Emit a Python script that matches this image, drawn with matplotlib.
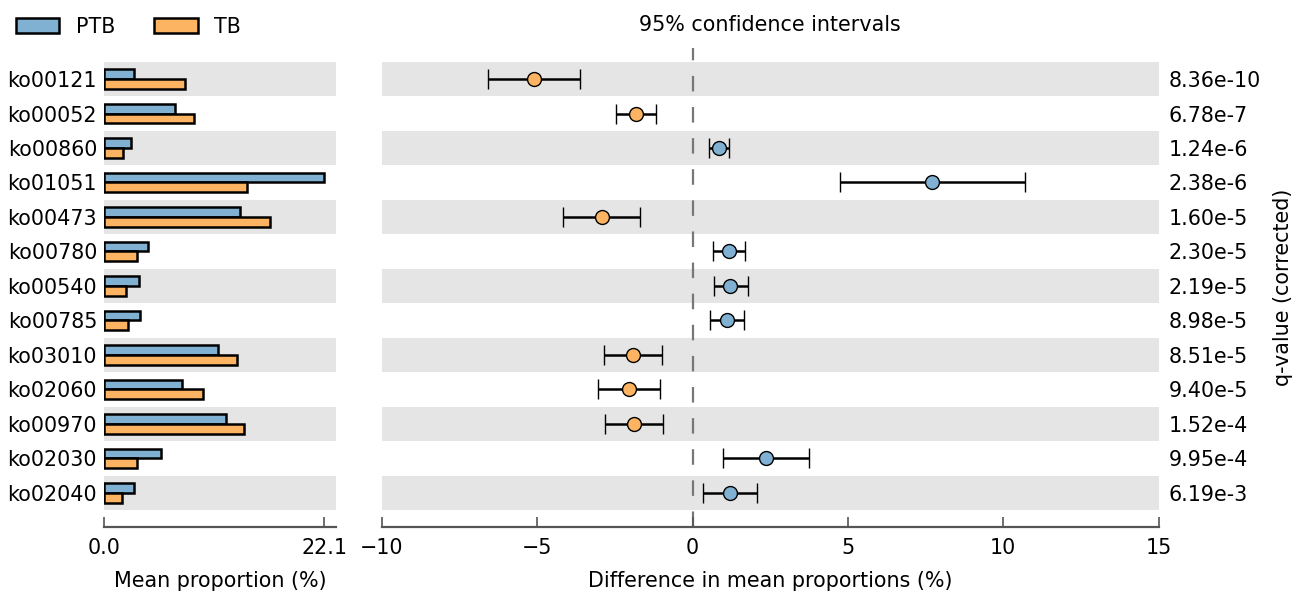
import matplotlib

matplotlib.use("Agg")
import matplotlib.patches as mpatches
import matplotlib.pyplot as plt
import numpy as np

# pathways, top to bottom
features = [
    "ko00121", "ko00052", "ko00860", "ko01051", "ko00473", "ko00780", "ko00540",
    "ko00785", "ko03010", "ko02060", "ko00970", "ko02030", "ko02040",
]
# mean proportion (%)
ptb_mean = [3.0, 7.1, 2.75, 22.1, 13.7, 4.45, 3.5, 3.6, 11.4, 7.8, 12.25, 5.7, 3.0]
tb_mean = [8.1, 9.0, 1.9, 14.4, 16.7, 3.3, 2.2, 2.4, 13.4, 9.9, 14.1, 3.3, 1.8]
# difference in mean proportions with 95% CI
diff = [-5.11, -1.83, 0.84, 7.72, -2.92, 1.17, 1.22, 1.11, -1.92, -2.05, -1.89, 2.36, 1.21]
ci_low = [-6.57, -2.47, 0.52, 4.74, -4.18, 0.65, 0.69, 0.57, -2.85, -3.05, -2.83, 0.97, 0.34]
ci_high = [-3.61, -1.17, 1.17, 10.70, -1.68, 1.70, 1.79, 1.67, -0.99, -1.05, -0.94, 3.75, 2.08]
qvals = [
    "8.36e-10", "6.78e-7", "1.24e-6", "2.38e-6", "1.60e-5", "2.30e-5", "2.19e-5",
    "8.98e-5", "8.51e-5", "9.40e-5", "1.52e-4", "9.95e-4", "6.19e-3",
]

C_PTB = "#80b1d3"
C_TB = "#fdb462"
C_BAND = "#e5e5e5"
C_AXIS = "#555555"
FS = 14.9

y = np.arange(len(features))
ylim = (12.99, -0.9)

fig = plt.figure(figsize=(13.03, 5.92), dpi=100)
fig.patch.set_facecolor("white")

ax_l = fig.add_axes([104 / 1303, 1 - 527 / 592, 232 / 1303, 479 / 592])
ax_r = fig.add_axes([381.7 / 1303, 1 - 527 / 592, 777 / 1303, 479 / 592])

for ax in (ax_l, ax_r):
    for i in y:
        if i % 2 == 0:
            ax.axhspan(i - 0.5, i + 0.5, color=C_BAND, lw=0, zorder=0)
    ax.set_ylim(ylim)
    for side in ("top", "left", "right"):
        ax.spines[side].set_visible(False)
    ax.spines["bottom"].set_color(C_AXIS)
    ax.spines["bottom"].set_linewidth(1.6)
    ax.tick_params(axis="x", direction="in", length=7, width=1.2, color=C_AXIS,
                   labelsize=FS, pad=8)
    ax.tick_params(axis="y", length=0)

# left: mean proportion bars
bh = 0.28
ax_l.barh(y - bh / 2, ptb_mean, height=bh, color=C_PTB, edgecolor="black", lw=1.8, zorder=2)
ax_l.barh(y + bh / 2, tb_mean, height=bh, color=C_TB, edgecolor="black", lw=1.8, zorder=2)
ax_l.set_xlim(0, 23.3)
ax_l.set_xticks([0, 22.1], ["0.0", "22.1"])
ax_l.set_yticks(y, features)
ax_l.tick_params(axis="y", labelsize=FS, pad=5)
ax_l.set_xlabel("Mean proportion (%)", fontsize=FS, labelpad=9)

# right: differences with CI
ax_r.axvline(0, color="#777777", lw=1.6, dashes=(7, 7), zorder=1)
for i in y:
    col = C_PTB if diff[i] > 0 else C_TB
    ax_r.errorbar(diff[i], i, xerr=[[diff[i] - ci_low[i]], [ci_high[i] - diff[i]]],
                  fmt="o", color=col, ms=10, mec="black", mew=1.0,
                  ecolor="black", elinewidth=1.8, capsize=7, capthick=1.1, zorder=3)
ax_r.set_xlim(-10, 15)
ax_r.set_xticks([-10, -5, 0, 5, 10, 15])
ax_r.set_yticks([])
ax_r.set_xlabel("Difference in mean proportions (%)", fontsize=FS, labelpad=9)

ax_q = ax_r.twinx()
ax_q.set_ylim(ylim)
ax_q.set_yticks(y, qvals)
ax_q.tick_params(axis="y", length=0, labelsize=FS, pad=7)
for sp in ax_q.spines.values():
    sp.set_visible(False)
ax_q.set_ylabel("q-value (corrected)", fontsize=FS, labelpad=9)

fig.text(770 / 1303, 1 - 25 / 592, "95% confidence intervals", ha="center", va="center",
         fontsize=FS)

leg = [
    mpatches.Patch(facecolor=C_PTB, edgecolor="black", lw=1.8, label="PTB"),
    mpatches.Patch(facecolor=C_TB, edgecolor="black", lw=1.8, label="TB"),
]
fig.legend(handles=leg, loc="upper left", bbox_to_anchor=(0.012, 0.972), ncol=2,
           frameon=False, fontsize=FS, handlelength=2.1, handleheight=0.7,
           handletextpad=0.8, columnspacing=1.9, borderpad=0, borderaxespad=0)

fig.savefig("out.png", dpi=100, facecolor="white")
plt.close(fig)
